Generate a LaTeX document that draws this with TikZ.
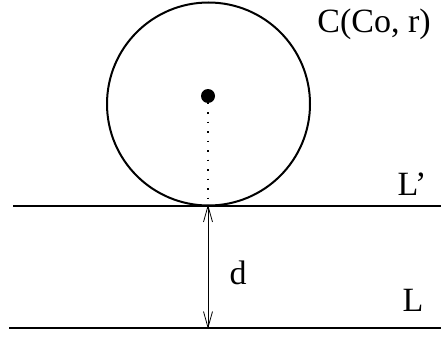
\documentclass[tikz,border=0pt]{standalone}
\usepackage{fontspec}
\setmainfont{Liberation Serif}
\usetikzlibrary{arrows.meta}
\begin{document}
\begin{tikzpicture}[x=1pt,y=-1pt,
  thickline/.style={line width=2pt},
  lbl/.style={inner sep=0pt,font=\fontsize{34}{38}\selectfont}]
\useasboundingbox (0,0) rectangle (441,337);
\coordinate (cc) at (208.5,104);
\draw[thickline] (cc) circle[radius=101.5];
\node[circle,fill=black,inner sep=0pt,minimum size=14pt] (ctr) at (208,96) {};
\coordinate (tan) at (208,205.5);
\coordinate (l1a) at (13,205.5);
\coordinate (l1b) at (441,205.5);
\coordinate (l2a) at (9,328);
\coordinate (l2b) at (441,328);
\coordinate (bot) at (208,328);
\draw[thickline] (l1a) -- (l1b);
\draw[thickline] (l2a) -- (l2b);
\draw[line width=1.3pt,dash pattern=on 1.3pt off 8.2pt] ([yshift=10pt]ctr.south) -- ([yshift=-8pt]tan);
\draw[line width=0.8pt,{Straight Barb[length=16pt,width=9pt]}-{Straight Barb[length=16pt,width=9pt]}] ([yshift=1pt]tan) -- ([yshift=-1pt]bot);
\node[lbl] (d) at (238,273) {d};
\node[lbl] (L) at (413,300) {L};
\node[lbl] (Lp) at (412,184) {L'};
\node[lbl] (C) at (374,24) {C(Co, r)};
\end{tikzpicture}
\end{document}
